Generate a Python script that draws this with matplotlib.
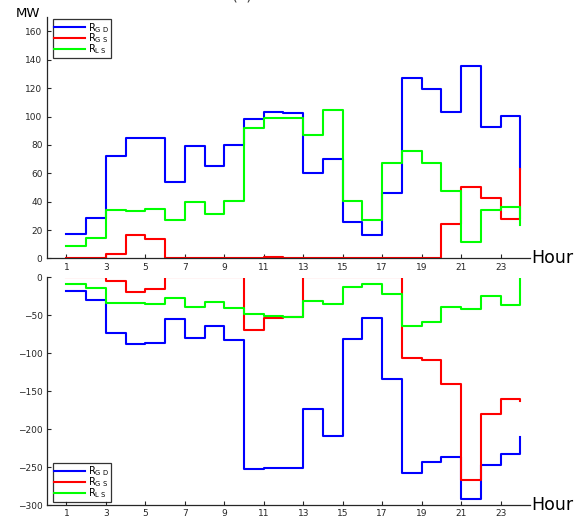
import numpy as np
import matplotlib
matplotlib.use("Agg")
import matplotlib.pyplot as plt
from matplotlib.patches import Rectangle

hours = list(range(1, 25))
xticks = list(range(1, 24, 2))

# Top panel (MW, positive reserves)
top_gd = [17.2, 28.5, 72, 85.2, 84.7, 53.8, 79.3, 65, 80, 97.9, 103.2, 102.3,
          60.4, 69.8, 25.7, 16.3, 45.8, 127.2, 119.2, 103.2, 135.6, 92.3, 100.4, 63]
top_gs = [0, 0, 3.2, 16.8, 13.7, 0, 0, 0, 0, 0, 0.7, 0,
          0, 0, 0, 0, 0, 0, 0, 24.3, 50.5, 42.3, 27.6, 62.7]
top_ls = [8.8, 14.2, 33.9, 33.6, 34.8, 27.1, 39.7, 31.5, 40.7, 91.8, 98.8, 99.3,
          87, 104.4, 40.4, 27, 67.4, 75.6, 66.9, 47.5, 11.8, 33.9, 36, 23.6]

# Bottom panel (negative reserves)
bot_gd = [-18.4, -29.9, -73.3, -87.8, -86.9, -54.9, -79.9, -64.1, -82.5, -251.8, -250.5, -250.5,
          -173.7, -208.4, -81.2, -54, -134.2, -258, -242.6, -236.4, -291.7, -247, -232, -210.5]
bot_gs = [0, 0, -4.4, -19.8, -15.8, 0, 0, 0, 0, -69, -53, -52,
          0, 0, 0, 0, 0, -106.6, -108.8, -140.8, -267, -179.4, -159.7, -162.8]
bot_ls = [-8.8, -14.5, -33.8, -33.3, -35.5, -27.2, -39.5, -32.9, -40, -48.3, -51.3, -51.7,
          -30.8, -34.7, -12.8, -8.4, -22.4, -63.6, -59.2, -39.1, -42.1, -24.6, -36, 0]

labels = [r'R$_{\mathrm{G\;D}}$', r'R$_{\mathrm{G\;S}}$', r'R$_{\mathrm{L\;S}}$']
colors = ['#0000ff', '#ff0000', '#00ff00']

plt.rcParams['font.family'] = ['DejaVu Sans']
fig = plt.figure(figsize=(5.86, 5.20), dpi=100)
ax1 = fig.add_axes([0.0797, 0.503, 0.825, 0.464])
ax2 = fig.add_axes([0.0797, 0.0283, 0.825, 0.4385])

def style(ax):
    for s in ['top', 'right']:
        ax.spines[s].set_visible(False)
    for s in ['left', 'bottom']:
        ax.spines[s].set_color('#262626')
        ax.spines[s].set_linewidth(0.9)
    ax.tick_params(direction='in', length=3, width=0.8, colors='#262626',
                   labelsize=6.5, pad=3)
    ax.set_xlim(0, 24.5)
    ax.set_xticks(xticks)

def make_legend(ax, loc, anchor):
    leg = ax.legend(loc=loc, bbox_to_anchor=anchor, fontsize=7,
                    frameon=True, fancybox=False, edgecolor='black', handlelength=3.2,
                    labelspacing=-0.3, borderpad=0.15, handletextpad=0.35,
                    borderaxespad=0.1)
    leg.get_frame().set_linewidth(0.9)
    return leg

# top
for vals, c, lab in zip([top_gd, top_gs, top_ls], colors, labels):
    ax1.plot(hours, vals, drawstyle='steps-post', color=c, lw=1.5, label=lab)
style(ax1)
ax1.set_ylim(0, 170)
ax1.set_yticks(range(0, 161, 20))
make_legend(ax1, 'upper left', (0.01, 0.995))
ax1.text(-0.064, 1.0, 'MW', transform=ax1.transAxes, fontsize=9.5, ha='left', va='baseline')
ax1.text(24.55, 0, 'Hour', fontsize=12.5, ha='left', va='center')

# bottom
clip = Rectangle((0, -300), 24.5, 298.4, transform=ax2.transData)
for vals, c, lab in zip([bot_gd, bot_gs, bot_ls], colors, labels):
    ln, = ax2.plot(hours, vals, drawstyle='steps-post', color=c, lw=1.5, label=lab)
    ln.set_clip_path(clip)
style(ax2)
ax2.set_ylim(-300, 0)
ax2.set_yticks(range(-300, 1, 50))
make_legend(ax2, 'lower left', (0.01, 0.012))
ax2.text(24.55, -300, 'Hour', fontsize=12.5, ha='left', va='center')

fig.text(242 / 586, 1 - 3 / 520, '(a)', fontsize=11, ha='center', va='bottom', color='#444444')

fig.savefig('out.png', dpi=100)
